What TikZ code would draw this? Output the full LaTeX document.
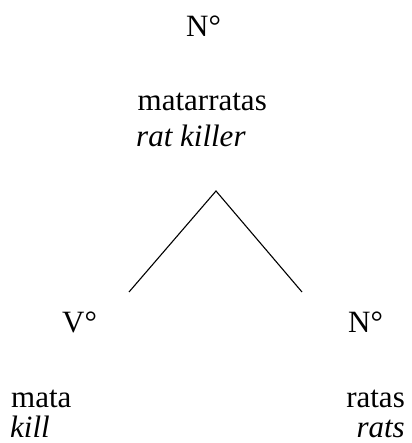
\documentclass[tikz,border=0pt]{standalone}
\usepackage{fontspec}
\setmainfont{Liberation Serif}
\begin{document}
\begin{tikzpicture}[x=1pt,y=-1pt,
  lbl/.style={anchor=base west,inner sep=0pt,font=\fontsize{31}{36}\selectfont},
  lblr/.style={anchor=base east,inner sep=0pt,font=\fontsize{31}{36}\selectfont},
  gloss/.style={lbl,font=\fontsize{31}{36}\selectfont\itshape},
  glossr/.style={lblr,font=\fontsize{31}{36}\selectfont\itshape},
  branch/.style={line width=1.1pt,black}]
\useasboundingbox (0,0) rectangle (411,443);
\node[lbl] (top) at (186,37) {N°};
\node[lbl] (topword) at (137.5,111) {matarratas};
\node[gloss] (topgloss) at (136,147) {rat killer};
\coordinate (apex) at (216,191);
\coordinate (lend) at (129,292);
\coordinate (rend) at (302,292);
\draw[branch] (lend) -- (apex) -- (rend);
\node[lbl] (v) at (62,332) {V°};
\node[lbl] (n) at (348,332) {N°};
\node[lbl] (mata) at (11,407) {mata};
\node[gloss] (kill) at (10,437) {kill};
\node[lblr] (ratas) at (405,407) {ratas};
\node[glossr] (rats) at (405,437) {rats};
\end{tikzpicture}
\end{document}
